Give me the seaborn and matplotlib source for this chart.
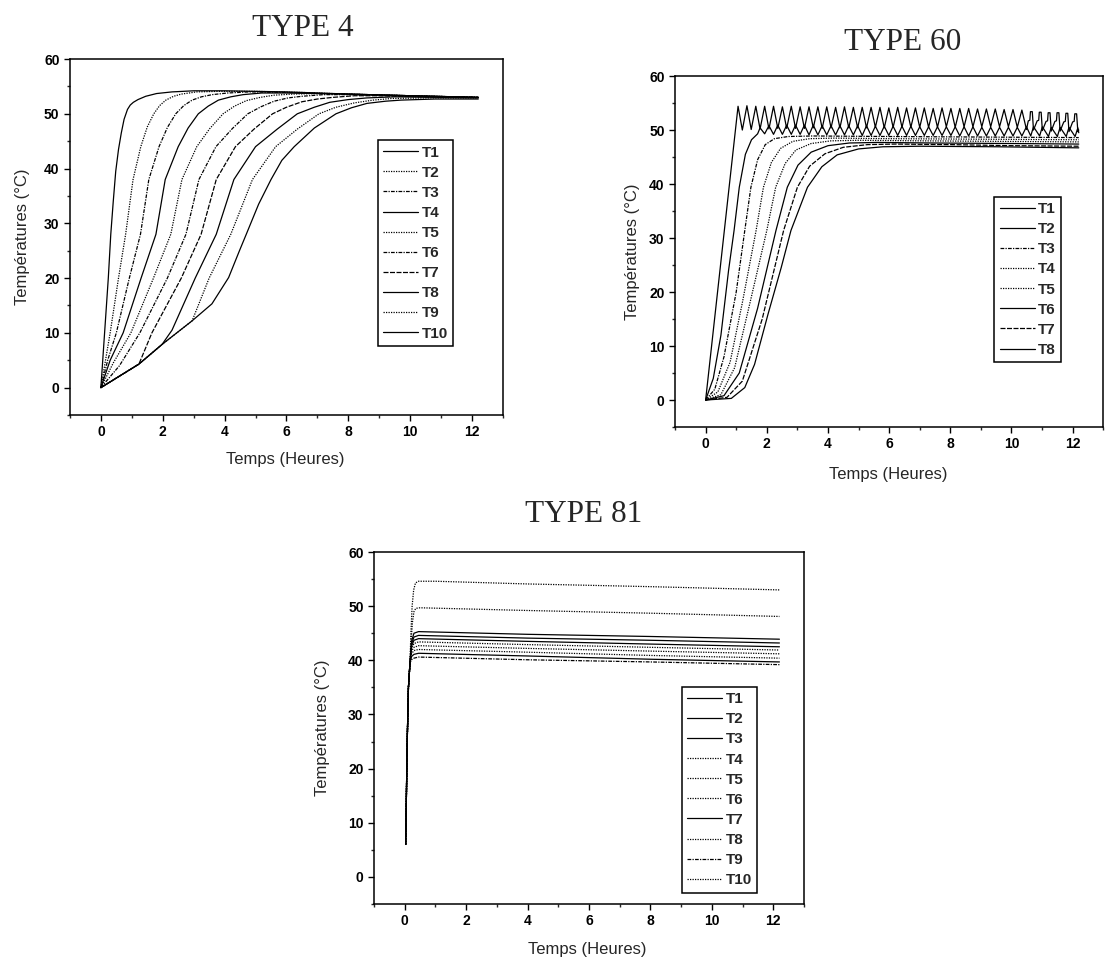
import matplotlib
matplotlib.use('Agg')
import matplotlib.pyplot as plt
import seaborn as sns
from matplotlib.ticker import MultipleLocator

sns.set_style('ticks')
plt.rcParams['font.family'] = ['Liberation Sans', 'DejaVu Sans']

# ---------------- TYPE 4 : 10 sondes ----------------
t4_T1_x = [0, 0.12, 0.24, 0.32, 0.40, 0.48, 0.57, 0.66, 0.75, 0.86, 0.95, 1.05, 1.2, 1.45, 1.8, 2.3, 3.0, 4.0, 6.0, 8.0, 10.0, 12.2]
t4_T1_y = [0, 10, 20, 28, 34, 39.5, 43.5, 46.5, 49, 50.8, 51.6, 52.1, 52.6, 53.2, 53.7, 54.0, 54.2, 54.2, 54.0, 53.6, 53.3, 53.0]
t4_T2_x = [0, 0.15, 0.30, 0.57, 0.80, 1.04, 1.29, 1.50, 1.71, 1.9, 2.1, 2.35, 2.6, 3.1, 3.8, 5.0, 6.5, 8.0, 10.0, 12.2]
t4_T2_y = [0, 5, 10, 20, 28, 38, 44, 47.6, 50, 51.5, 52.5, 53.2, 53.6, 54.0, 54.1, 54.1, 53.9, 53.6, 53.3, 53.0]
t4_T3_x = [0, 0.22, 0.50, 0.92, 1.28, 1.55, 1.88, 2.15, 2.42, 2.68, 2.95, 3.25, 3.6, 4.1, 4.8, 6.0, 8.0, 10.0, 12.2]
t4_T3_y = [0, 5, 10, 20, 28, 38, 44, 47.5, 50, 51.5, 52.5, 53.1, 53.5, 53.8, 54.0, 53.9, 53.6, 53.3, 53.0]
t4_T4_x = [0, 0.30, 0.72, 1.30, 1.78, 2.08, 2.50, 2.82, 3.15, 3.47, 3.80, 4.2, 4.6, 5.2, 6.0, 8.0, 10.0, 12.2]
t4_T4_y = [0, 5, 10, 20, 28, 38, 44, 47.4, 50, 51.4, 52.5, 53.1, 53.5, 53.8, 53.8, 53.6, 53.3, 53.0]
t4_T5_x = [0, 0.40, 0.97, 1.70, 2.26, 2.62, 3.10, 3.52, 3.95, 4.32, 4.70, 5.15, 5.6, 6.2, 7.0, 8.5, 10.0, 12.2]
t4_T5_y = [0, 4.5, 10, 20, 28, 38, 44, 47.3, 50, 51.4, 52.4, 53.0, 53.4, 53.6, 53.7, 53.5, 53.3, 53.0]
t4_T6_x = [0, 0.60, 1.26, 2.15, 2.75, 3.17, 3.72, 4.25, 4.75, 5.18, 5.60, 6.05, 6.5, 7.2, 8.0, 10.0, 12.2]
t4_T6_y = [0, 4, 10, 20, 28, 38, 44, 47.3, 50, 51.3, 52.3, 52.9, 53.2, 53.5, 53.5, 53.2, 53.0]
t4_T7_x = [0, 1.23, 1.65, 2.60, 3.24, 3.73, 4.35, 4.95, 5.55, 6.0, 6.5, 7.0, 7.5, 8.2, 9.0, 10.5, 12.2]
t4_T7_y = [0, 4.3, 10, 20, 28, 38, 44, 47.2, 50, 51.2, 52.2, 52.7, 53.0, 53.3, 53.3, 53.1, 53.0]
t4_T8_x = [0, 1.23, 1.98, 2.30, 3.05, 3.73, 4.30, 5.00, 5.70, 6.35, 6.9, 7.4, 8.0, 8.6, 9.5, 11.0, 12.2]
t4_T8_y = [0, 4.3, 7.9, 10.5, 20, 28, 38, 44, 47.2, 50, 51.2, 52.1, 52.6, 52.9, 53.1, 53.0, 52.9]
t4_T9_x = [0, 1.23, 1.98, 2.95, 3.50, 4.20, 4.90, 5.65, 6.35, 7.05, 7.6, 8.2, 8.8, 9.4, 10.5, 12.2]
t4_T9_y = [0, 4.3, 7.9, 12.2, 20, 28, 38, 44, 47.2, 50, 51.2, 52.0, 52.5, 52.8, 52.9, 52.9]
t4_T10_x = [0, 1.23, 1.98, 2.95, 3.59, 4.13, 4.48, 4.70, 5.10, 5.50, 5.85, 6.25, 6.9, 7.6, 8.1, 8.6, 9.2, 9.7, 10.8, 12.2]
t4_T10_y = [0, 4.3, 7.9, 12.2, 15.3, 20.1, 25, 28, 33.5, 38, 41.5, 44, 47.4, 50, 51.1, 51.9, 52.3, 52.5, 52.7, 52.7]

# ---------------- TYPE 60 : 8 sondes ----------------
t60_T1_x = [0, 1.06, 1.20, 1.35, 1.49, 1.64, 1.78, 1.93, 2.07, 2.22, 2.36, 2.51, 2.65, 2.80, 2.94,
            3.09, 3.23, 3.38, 3.52, 3.67, 3.81, 3.96, 4.10, 4.25, 4.39, 4.54, 4.68, 4.83, 4.97,
            5.12, 5.26, 5.41, 5.55, 5.70, 5.84, 5.99, 6.13, 6.28, 6.42, 6.57, 6.71, 6.86, 7.00,
            7.15, 7.29, 7.44, 7.58, 7.73, 7.87, 8.02, 8.16, 8.31, 8.45, 8.60, 8.74, 8.89, 9.03,
            9.18, 9.32, 9.47, 9.61, 9.76, 9.90, 10.05, 10.19, 10.34,
            10.49, 10.55, 10.60, 10.62, 10.68, 10.72, 10.84, 10.89, 10.91, 10.97, 11.01,
            11.13, 11.18, 11.20, 11.26, 11.30, 11.42, 11.47, 11.49, 11.55, 11.59,
            11.71, 11.76, 11.78, 11.84, 11.88, 12.00, 12.05, 12.07, 12.13, 12.17, 12.2]
t60_T1_y = [0, 54.4, 50.0, 54.5, 50.1, 54.4, 50.2, 54.4, 50.2, 54.4, 50.3, 54.3, 50.3, 54.4, 50.3,
            54.3, 50.3, 54.3, 50.4, 54.3, 50.3, 54.3, 50.4, 54.2, 50.4, 54.3, 50.4, 54.2, 50.4,
            54.2, 50.4, 54.2, 50.5, 54.2, 50.4, 54.1, 50.5, 54.2, 50.5, 54.1, 50.5, 54.1, 50.5,
            54.1, 50.5, 54.0, 50.5, 54.1, 50.6, 54.0, 50.5, 54.0, 50.6, 54.0, 50.6, 53.9, 50.6,
            53.9, 50.6, 53.9, 50.6, 53.8, 50.6, 53.8, 50.5, 53.7,
            50.1, 51.7, 51.8, 53.4, 53.4, 50.0, 51.7, 51.8, 53.3, 53.3, 49.9,
            51.6, 51.7, 53.2, 53.2, 49.8, 51.6, 51.7, 53.2, 53.2, 49.8,
            51.5, 51.6, 53.1, 53.1, 49.7, 51.5, 51.6, 53.0, 53.0, 49.7, 50.0]
t60_T2_x = [0, 0.25, 0.5, 0.75, 0.93, 1.10, 1.30, 1.50, 1.70, 1.78, 1.93, 2.07, 2.22, 2.36, 2.51,
            2.65, 2.80, 2.94, 3.09, 3.23, 3.38, 3.52, 3.67, 3.81, 3.96, 4.10, 4.25, 4.39, 4.54,
            4.68, 4.83, 4.97, 5.12, 5.26, 5.41, 5.55, 5.70, 5.84, 5.99, 6.13, 6.28, 6.42, 6.57,
            6.71, 6.86, 7.00, 7.15, 7.29, 7.44, 7.58, 7.73, 7.87, 8.02, 8.16, 8.31, 8.45, 8.60,
            8.74, 8.89, 9.03, 9.18, 9.32, 9.47, 9.61, 9.76, 9.90, 10.05, 10.19, 10.34, 10.49,
            10.63, 10.72, 10.92, 11.01, 11.21, 11.30, 11.50, 11.59, 11.79, 11.88, 12.08, 12.17, 12.2]
t60_T2_y = [0, 4, 12, 24, 31.4, 39.4, 45.5, 48.2, 49.3, 50.4, 49.3, 50.8, 49.2, 50.9, 49.2,
            50.9, 49.2, 50.9, 49.2, 50.9, 49.1, 50.9, 49.1, 50.8, 49.1, 50.8, 49.1, 50.8, 49.1,
            50.8, 49.1, 50.8, 49.0, 50.8, 49.0, 50.7, 49.0, 50.7, 49.0, 50.7, 49.0, 50.7, 49.0,
            50.7, 49.0, 50.6, 49.0, 50.6, 49.0, 50.6, 49.0, 50.6, 49.0, 50.6, 48.9, 50.6, 48.9,
            50.6, 48.9, 50.5, 48.9, 50.5, 48.9, 50.5, 48.9, 50.5, 48.9, 50.5, 48.9, 50.6,
            48.9, 50.6, 48.9, 50.6, 48.8, 50.5, 48.8, 50.5, 48.8, 50.5, 48.8, 50.4, 49.5]
t60_T3_x = [0, 0.3, 0.6, 1.0, 1.28, 1.48, 1.7, 1.95, 2.25, 2.7, 3.5, 6.0, 9.0, 12.2]
t60_T3_y = [0, 2, 8, 20, 31.4, 39.4, 44.5, 47.3, 48.4, 48.8, 48.9, 48.8, 48.7, 48.6]
t60_T4_x = [0, 0.4, 0.8, 1.2, 1.65, 1.89, 2.15, 2.45, 2.85, 3.4, 4.2, 6.0, 9.0, 12.2]
t60_T4_y = [0, 1.5, 7, 18, 31.4, 39.4, 44, 46.6, 47.9, 48.4, 48.5, 48.4, 48.3, 48.2]
t60_T5_x = [0, 0.5, 0.95, 1.45, 2.0, 2.29, 2.6, 2.95, 3.45, 4.1, 5.0, 7.0, 9.5, 12.2]
t60_T5_y = [0, 1, 6, 18, 31.4, 39.4, 43.8, 46.3, 47.5, 48.0, 48.1, 48.0, 47.9, 47.8]
t60_T6_x = [0, 0.6, 1.1, 1.7, 2.3, 2.67, 3.02, 3.45, 4.0, 4.7, 5.6, 7.5, 10.0, 12.2]
t60_T6_y = [0, 0.8, 5, 17, 31.4, 39.4, 43.5, 45.9, 47.1, 47.6, 47.7, 47.6, 47.5, 47.4]
t60_T7_x = [0, 0.7, 1.2, 1.85, 2.55, 3.0, 3.4, 3.9, 4.5, 5.3, 6.2, 8.0, 10.0, 12.2]
t60_T7_y = [0, 0.5, 3.5, 15, 31.4, 39.4, 43.3, 45.6, 46.8, 47.3, 47.4, 47.3, 47.1, 47.0]
t60_T8_x = [0, 0.84, 1.28, 1.6, 2.04, 2.47, 2.79, 3.33, 3.8, 4.3, 5.0, 5.8, 7.0, 9.5, 12.2]
t60_T8_y = [0, 0.3, 2.3, 6.6, 15.9, 24.5, 31.4, 39.4, 43.2, 45.4, 46.5, 46.9, 47.0, 46.9, 46.7]

# ---------------- TYPE 81 : 10 sondes ----------------
t81_T1_x = [0.03, 0.08, 0.12, 0.17, 0.22, 0.30, 0.45, 4.0, 8.0, 12.2]
t81_T1_y = [6, 25, 35, 39.5, 43.5, 45.0, 45.3, 44.8, 44.4, 43.9]
t81_T2_x = [0.03, 0.08, 0.12, 0.17, 0.22, 0.30, 0.45, 4.0, 8.0, 12.2]
t81_T2_y = [6, 25, 35, 39.5, 43.0, 44.3, 44.6, 44.1, 43.7, 43.2]
t81_T3_x = [0.03, 0.08, 0.12, 0.17, 0.22, 0.30, 0.45, 4.0, 8.0, 12.2]
t81_T3_y = [6, 25, 35, 39.5, 42.6, 43.7, 44.0, 43.5, 43.0, 42.5]
t81_T4_x = [0.03, 0.08, 0.12, 0.17, 0.22, 0.30, 0.45, 4.0, 8.0, 12.2]
t81_T4_y = [6, 25, 35, 39.5, 42.2, 43.1, 43.4, 42.9, 42.4, 41.9]
t81_T5_x = [0.03, 0.08, 0.12, 0.17, 0.22, 0.30, 0.45, 4.0, 8.0, 12.2]
t81_T5_y = [6, 25, 35, 39.5, 41.7, 42.4, 42.7, 42.2, 41.7, 41.2]
t81_T6_x = [0.03, 0.08, 0.12, 0.17, 0.22, 0.30, 0.45, 4.0, 8.0, 12.2]
t81_T6_y = [6, 25, 35, 39.5, 41.2, 41.8, 42.0, 41.5, 40.9, 40.4]
t81_T7_x = [0.03, 0.08, 0.12, 0.17, 0.22, 0.30, 0.45, 4.0, 8.0, 12.2]
t81_T7_y = [6, 25, 35, 39.5, 40.7, 41.1, 41.3, 40.8, 40.2, 39.7]
t81_T8_x = [0.03, 0.08, 0.12, 0.17, 0.20, 0.25, 0.30, 0.36, 0.5, 4.0, 8.0, 12.2]
t81_T8_y = [6, 25, 35, 39.5, 43.0, 47.0, 49.0, 49.6, 49.7, 49.2, 48.7, 48.1]
t81_T9_x = [0.03, 0.08, 0.12, 0.17, 0.22, 0.30, 0.45, 4.0, 8.0, 12.2]
t81_T9_y = [6, 25, 35, 39.5, 40.1, 40.4, 40.6, 40.1, 39.7, 39.2]
t81_T10_x = [0.03, 0.08, 0.12, 0.17, 0.20, 0.24, 0.29, 0.35, 0.45, 1.0, 4.0, 8.0, 12.2]
t81_T10_y = [6, 25, 35, 39.5, 45.0, 50.0, 53.0, 54.3, 54.6, 54.6, 54.1, 53.6, 53.0]

x_ticks = [0, 2, 4, 6, 8, 10, 12]
y_ticks = [0, 10, 20, 30, 40, 50, 60]

solid = '-'
dot = (0, (1, 1))
dashdot = (0, (3, 1, 1, 1))
dash = (0, (4, 1.2))

panels = [
    dict(title='TYPE 4', rect=[0.0633, 0.5677, 0.3919, 0.3708], title_xy=(0.274, 0.970),
         ylab=-0.092, xlab=-0.104, leg=(0.711, 0.772),
         series=[(t4_T1_x, t4_T1_y, 'T1', solid), (t4_T2_x, t4_T2_y, 'T2', dot),
                 (t4_T3_x, t4_T3_y, 'T3', dashdot), (t4_T4_x, t4_T4_y, 'T4', solid),
                 (t4_T5_x, t4_T5_y, 'T5', dot), (t4_T6_x, t4_T6_y, 'T6', dashdot),
                 (t4_T7_x, t4_T7_y, 'T7', dash), (t4_T8_x, t4_T8_y, 'T8', solid),
                 (t4_T9_x, t4_T9_y, 'T9', dot), (t4_T10_x, t4_T10_y, 'T10', solid)]),
    dict(title='TYPE 60', rect=[0.6109, 0.5552, 0.3875, 0.3656], title_xy=(0.817, 0.956),
         ylab=-0.082, xlab=-0.114, leg=(0.746, 0.656),
         series=[(t60_T1_x, t60_T1_y, 'T1', solid), (t60_T2_x, t60_T2_y, 'T2', solid),
                 (t60_T3_x, t60_T3_y, 'T3', dashdot), (t60_T4_x, t60_T4_y, 'T4', dot),
                 (t60_T5_x, t60_T5_y, 'T5', dot), (t60_T6_x, t60_T6_y, 'T6', solid),
                 (t60_T7_x, t60_T7_y, 'T7', dash), (t60_T8_x, t60_T8_y, 'T8', solid)]),
    dict(title='TYPE 81', rect=[0.3385, 0.0583, 0.3891, 0.3667], title_xy=(0.528, 0.464),
         ylab=-0.102, xlab=-0.108, leg=(0.716, 0.617),
         series=[(t81_T1_x, t81_T1_y, 'T1', solid), (t81_T2_x, t81_T2_y, 'T2', solid),
                 (t81_T3_x, t81_T3_y, 'T3', solid), (t81_T4_x, t81_T4_y, 'T4', dot),
                 (t81_T5_x, t81_T5_y, 'T5', dot), (t81_T6_x, t81_T6_y, 'T6', dot),
                 (t81_T7_x, t81_T7_y, 'T7', solid), (t81_T8_x, t81_T8_y, 'T8', dot),
                 (t81_T9_x, t81_T9_y, 'T9', dashdot), (t81_T10_x, t81_T10_y, 'T10', dot)]),
]

fig = plt.figure(figsize=(11.05, 9.6), dpi=100)

for p in panels:
    ax = fig.add_axes(p['rect'])
    for xs, ys, lab, ls in p['series']:
        sns.lineplot(x=xs, y=ys, ax=ax, color='black', linewidth=0.9, linestyle=ls,
                     label=lab, sort=False, estimator=None)
    ax.set_xlim(-1, 13)
    ax.set_ylim(-5, 60)
    ax.set_xticks(x_ticks)
    ax.set_xticklabels([str(v) for v in x_ticks], fontweight='bold')
    ax.set_yticks(y_ticks)
    ax.set_yticklabels([str(v) for v in y_ticks], fontweight='bold')
    ax.xaxis.set_minor_locator(MultipleLocator(1))
    ax.yaxis.set_minor_locator(MultipleLocator(5))
    ax.tick_params(which='major', direction='out', length=4, width=1, labelsize=10, colors='black')
    ax.tick_params(which='minor', direction='out', length=2.5, width=1)
    for s in ax.spines.values():
        s.set_linewidth(1.1)
        s.set_color('black')
    ax.set_ylabel('Températures (°C)', fontsize=12)
    ax.set_xlabel('Temps (Heures)', fontsize=12)
    ax.yaxis.set_label_coords(p['ylab'], 0.5)
    ax.xaxis.set_label_coords(0.497, p['xlab'])
    leg = ax.legend(loc='upper left', bbox_to_anchor=p['leg'], borderaxespad=0,
                    frameon=True, fancybox=False, edgecolor='black', framealpha=1,
                    prop={'size': 11, 'weight': 'bold'}, handlelength=2.3, handletextpad=0.2,
                    labelspacing=0.4, borderpad=0.35)
    leg.get_frame().set_linewidth(1.1)
    fig.text(p['title_xy'][0], p['title_xy'][1], p['title'], family='Liberation Serif',
             fontsize=22.5, ha='center', va='center')

fig.savefig('out.png', dpi=100, facecolor='white')
